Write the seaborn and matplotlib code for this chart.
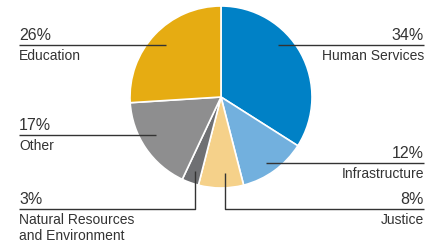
import matplotlib
matplotlib.use("Agg")
import matplotlib.pyplot as plt
import seaborn as sns
from matplotlib import font_manager

sns.set_theme(style="white")
names = {f.name for f in font_manager.fontManager.ttflist}
narrow = "Liberation Sans Narrow" in names
fam = "Liberation Sans Narrow" if narrow else "Liberation Sans"
plt.rcParams["font.family"] = [fam, "DejaVu Sans"]

categories = ["Human Services", "Infrastructure", "Justice",
              "Natural Resources\nand Environment", "Other", "Education"]
values = [34, 12, 8, 3, 17, 26]
colors = ["#0081C6", "#72B0DE", "#F5D18A", "#6F7073", "#8E8E8F", "#E6AC12"]

W, H = 439, 245
fig = plt.figure(figsize=(W / 100, H / 100), dpi=100)
ax = fig.add_axes([0, 0, 1, 1])


def Y(y):
    return H - y


ax.pie(values, colors=colors, startangle=90, counterclock=False,
       center=(221, Y(97)), radius=91, frame=True,
       wedgeprops=dict(edgecolor="white", linewidth=1.2))
ax.set_xlim(0, W)
ax.set_ylim(0, H)
ax.set_aspect("equal")
ax.axis("off")

tc = "#333333"
lc = "#333333"
if narrow:
    pfs, lfs = 13, 11.5
else:
    pfs, lfs = 11.5, 10

# (index, side, line y, line inner x, vertical top y or None)
specs = [
    (5, "left", 45, 166, None),
    (0, "right", 45, 278, None),
    (4, "left", 135, 156, None),
    (3, "left", 209, 195, 171),
    (1, "right", 163, 266, None),
    (2, "right", 209, 225, 173),
]
for idx, side, ly, ix, vtop in specs:
    if side == "left":
        x0, x1, tx, ha = 19, ix, 19, "left"
    else:
        x0, x1, tx, ha = ix, 424, 424, "right"
    xs = [x0, x1]
    ys = [Y(ly), Y(ly)]
    if vtop is not None:
        if side == "left":
            xs = [x0, x1, x1]
            ys = [Y(ly), Y(ly), Y(vtop)]
        else:
            xs = [x0, x0, x1]
            ys = [Y(vtop), Y(ly), Y(ly)]
    ax.plot(xs, ys, color=lc, linewidth=1.0, solid_capstyle="butt")
    ax.text(tx, Y(ly - 1.5), f"{values[idx]}%", ha=ha, va="bottom",
            fontsize=pfs, color=tc)
    ax.text(tx, Y(ly + 3.5), categories[idx], ha=ha, va="top",
            fontsize=lfs, color=tc, linespacing=1.2)

fig.savefig("out.png", dpi=100)
